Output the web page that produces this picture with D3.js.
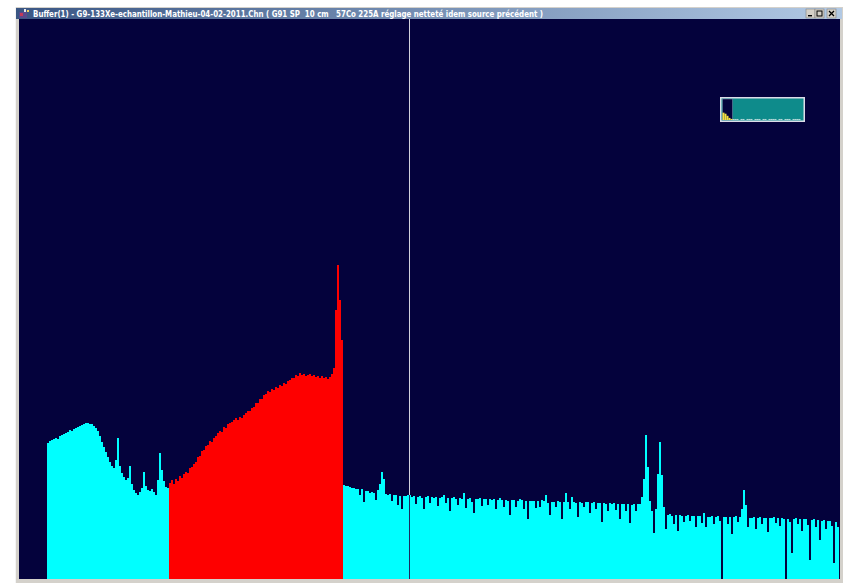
<!DOCTYPE html>
<html>
<head>
<meta charset="utf-8">
<script src="https://cdn.jsdelivr.net/npm/d3@7"></script>
<style>
  html, body { margin: 0; padding: 0; background: #ffffff; }
  svg { display: block; }
</style>
</head>
<body>
<svg id="chart" width="843" height="583"></svg>
<script>
// ---- Spectrum data (counts per display bin) ----
const windowTitle = "Buffer(1) - G9-133Xe-echantillon-Mathieu-04-02-2011.Chn ( G91 SP  10 cm   57Co 225A réglage netteté idem source précédent )";

// Channels below the region of interest
const countsLow = [
  0, 0, 0, 0, 0, 0, 0, 0, 0, 0, 0, 0, 0, 0,
  136, 138, 139, 140, 141, 140, 143, 144, 145, 146,
  147, 149, 148, 150, 151, 152, 153, 154, 155, 156,
  156, 155, 155, 153, 151, 148, 143, 137, 132, 127,
  122, 117, 113, 111, 119, 141, 113, 106, 102, 99,
  101, 113, 95, 89, 86, 84, 87, 91, 107, 93,
  89, 88, 90, 87, 84, 99, 126, 109, 98, 92, 91
];

// Region of interest (highlighted in red)
const countsRoi = [
  96, 99, 95, 100, 98, 103, 101, 105, 107, 106,
  111, 112, 115, 117, 122, 123, 128, 129, 133, 134,
  138, 137, 141, 143, 146, 148, 147, 152, 151, 155,
  156, 157, 159, 161, 159, 162, 161, 164, 166, 168,
  168, 171, 172, 176, 176, 180, 180, 184, 185, 188,
  187, 190, 189, 192, 191, 194, 193, 196, 195, 198,
  199, 201, 201, 204, 203, 206, 204, 205, 203, 204,
  205, 203, 204, 202, 203, 201, 203, 201, 202, 200,
  202, 205, 211, 269, 314, 279, 239
];

// Channels above the region of interest
const countsHigh = [
  94, 93, 93, 92, 91, 91, 90, 90, 84, 90,
  77, 88, 88, 86, 87, 86, 79, 89, 95, 107,
  100, 85, 84, 85, 78, 84, 84, 74, 83, 70,
  83, 83, 84, 84,
  82, 83, 75, 82, 83, 81, 70, 82, 83, 76,
  82, 81, 82, 73, 81, 82, 84, 76, 81, 68,
  81, 82, 80, 74, 81, 80, 86, 71, 80, 81,
  77, 66, 80, 80, 81, 73, 80, 80, 74, 80,
  79, 80, 70, 79, 81, 79, 72, 79, 78, 64,
  79, 79, 72, 78, 80, 79, 70, 78, 60, 78,
  78, 78, 71, 78, 72, 79, 78, 84, 76, 64,
  77, 77, 72, 78, 77, 60, 77, 86, 77, 70,
  82, 77, 76, 62, 77, 76, 72, 77, 77, 66,
  76, 77, 70, 76, 76, 57, 76, 75, 68, 76,
  75, 76, 69, 75, 60, 75, 75, 68, 75, 56,
  74, 75, 68, 75, 75, 82,
  100, 144, 112, 78, 68, 46, 70, 105, 137, 104,
  72, 50, 64, 65, 63, 55, 64, 48, 64, 63,
  57, 63, 64, 58, 63, 63, 52, 63, 63, 56,
  66, 52, 62, 62, 63, 55, 62, 63, 58, 0,
  62, 62, 55, 62, 45, 62, 63, 57, 62, 70,
  89, 74, 52, 61, 61, 62, 50, 61, 62, 55,
  61, 61, 47, 61, 61, 62, 56, 61, 53, 61,
  60, 0, 60, 57, 26, 60, 61, 55, 60, 48,
  60, 60, 54, 19, 59, 60, 52, 59, 39, 58,
  59, 50, 58, 58, 53, 16, 57, 52
];

const cursorChannel = 195;
const countsMax = 560;

// Full-spectrum overview shown in the small inset window
const overviewCounts = [
  7, 6, 4, 2, 1,
  1, 1, 1, 0, 1, 1, 0, 1, 1, 1,
  0, 1, 1, 1, 0, 1, 1, 0, 1, 1,
  1, 1, 0, 1, 1, 0, 1, 1, 1, 0,
  1, 1, 1, 1, 0
];
const overviewWindowBins = 5;
const overviewMax = 20;

// ---- Layout ----
const svg = d3.select("#chart");
const W = 843, H = 583;
const plot = { left: 19, right: 839, top: 19, bottom: 579 };

const counts = countsLow.concat(countsRoi, countsHigh);
const roiStart = countsLow.length;
const roiEnd = roiStart + countsRoi.length;

const x = d3.scaleLinear().domain([0, counts.length]).range([plot.left, plot.right]);
const y = d3.scaleLinear().domain([0, countsMax]).range([plot.bottom, plot.top]);

const colors = {
  frame: "#d4d1cb",
  plotBg: "#04023c",
  spectrum: "#00ffff",
  roi: "#fe0000",
  cursorTop: "#d2d2dc",
  cursorLow: "#1c2a60",
  insetFill: "#0e8b8b",
  insetBorder: "#dcdce8",
  overviewWin: "#04023c",
  overviewIn: "#f2e040",
  overviewOut: "#e8f0f0"
};

// ---- Window frame and title bar ----
svg.append("rect").attr("x", 15).attr("y", 7).attr("width", W - 15).attr("height", H - 7)
  .attr("fill", colors.frame);
svg.append("line").attr("x1", 15.5).attr("x2", 15.5).attr("y1", 7).attr("y2", H)
  .attr("stroke", "#f4f4f4");

const grad = svg.append("defs").append("linearGradient")
  .attr("id", "titleGrad").attr("x1", "0%").attr("x2", "100%");
grad.append("stop").attr("offset", "0%").attr("stop-color", "#3a5684");
grad.append("stop").attr("offset", "100%").attr("stop-color", "#b2c9e4");

svg.append("rect").attr("x", 16).attr("y", 8).attr("width", 826).attr("height", 11)
  .attr("fill", "url(#titleGrad)");

// little application icon
const icon = svg.append("g").attr("transform", "translate(19,9)");
icon.append("rect").attr("x", 0).attr("y", 3).attr("width", 8).attr("height", 6).attr("fill", "#5a4a8c");
icon.append("rect").attr("x", 1).attr("y", 4).attr("width", 3).attr("height", 3).attr("fill", "#c23a5a");
icon.append("rect").attr("x", 5).attr("y", 0).attr("width", 2).attr("height", 3).attr("fill", "#e8e8f0");
icon.append("rect").attr("x", 8).attr("y", 1).attr("width", 2).attr("height", 2).attr("fill", "#f0d060");

svg.append("text")
  .attr("x", 33).attr("y", 17)
  .attr("font-family", "'DejaVu Sans', sans-serif")
  .attr("font-weight", "bold")
  .attr("font-size", "9px")
  .attr("fill", "#ffffff")
  .attr("textLength", 510)
  .attr("lengthAdjust", "spacingAndGlyphs")
  .style("white-space", "pre")
  .text(windowTitle);

// caption buttons
const buttons = [
  { x: 806, glyph: "min" },
  { x: 815, glyph: "max" },
  { x: 827, glyph: "close" }
];
const btn = svg.append("g").selectAll("g").data(buttons).join("g")
  .attr("transform", d => `translate(${d.x},9)`);
btn.append("rect").attr("width", 9).attr("height", 9).attr("fill", "#d4d0c8")
  .attr("stroke", "#808080").attr("stroke-width", 0.6);
btn.filter(d => d.glyph === "min").append("rect")
  .attr("x", 2).attr("y", 6).attr("width", 4).attr("height", 1.4).attr("fill", "#000");
btn.filter(d => d.glyph === "max").append("rect")
  .attr("x", 2).attr("y", 2).attr("width", 5).attr("height", 5)
  .attr("fill", "none").attr("stroke", "#000").attr("stroke-width", 1);
btn.filter(d => d.glyph === "close").append("path")
  .attr("d", "M2,2 L7,7 M7,2 L2,7").attr("stroke", "#000").attr("stroke-width", 1.3);

// ---- Plot area ----
svg.append("rect")
  .attr("x", plot.left).attr("y", plot.top)
  .attr("width", plot.right - plot.left + 1).attr("height", plot.bottom - plot.top)
  .attr("fill", colors.plotBg);

// cursor (behind the spectrum, light over background)
svg.append("line")
  .attr("x1", x(cursorChannel) + 0.5).attr("x2", x(cursorChannel) + 0.5)
  .attr("y1", plot.top).attr("y2", y(counts[cursorChannel]))
  .attr("stroke", colors.cursorTop).attr("stroke-width", 1);

// spectrum bars
svg.append("g").attr("shape-rendering", "crispEdges")
  .selectAll("rect").data(counts).join("rect")
  .attr("x", (d, i) => x(i))
  .attr("width", (d, i) => x(i + 1) - x(i))
  .attr("y", d => y(d))
  .attr("height", d => y(0) - y(d))
  .attr("fill", (d, i) => (i >= roiStart && i < roiEnd) ? colors.roi : colors.spectrum);

// cursor where it crosses the spectrum
svg.append("line")
  .attr("x1", x(cursorChannel) + 0.5).attr("x2", x(cursorChannel) + 0.5)
  .attr("y1", y(counts[cursorChannel])).attr("y2", plot.bottom)
  .attr("stroke", colors.cursorLow).attr("stroke-width", 1);

// ---- Overview inset ----
const inset = { left: 720, top: 97, width: 85, height: 25 };
const gi = svg.append("g");
gi.append("rect")
  .attr("x", inset.left + 0.75).attr("y", inset.top + 0.75)
  .attr("width", inset.width - 1.5).attr("height", inset.height - 1.5)
  .attr("fill", colors.insetFill)
  .attr("stroke", colors.insetBorder).attr("stroke-width", 1.5);

const ox = d3.scaleLinear().domain([0, overviewCounts.length])
  .range([inset.left + 2.5, inset.left + inset.width - 2.5]);
const oy = d3.scaleLinear().domain([0, overviewMax])
  .range([inset.top + inset.height - 2, inset.top + 2]);

gi.append("rect")
  .attr("x", ox(0)).attr("y", oy(overviewMax))
  .attr("width", ox(overviewWindowBins) - ox(0)).attr("height", oy(0) - oy(overviewMax))
  .attr("fill", colors.overviewWin)
  .attr("stroke", "#8090b0").attr("stroke-width", 0.5);

gi.append("g").selectAll("rect").data(overviewCounts).join("rect")
  .attr("x", (d, i) => ox(i))
  .attr("width", (d, i) => ox(i + 1) - ox(i))
  .attr("y", d => oy(d))
  .attr("height", d => oy(0) - oy(d))
  .attr("fill", (d, i) => i < overviewWindowBins ? colors.overviewIn : colors.overviewOut)
  .attr("opacity", (d, i) => i < overviewWindowBins ? 1 : 0.75);
</script>
</body>
</html>
